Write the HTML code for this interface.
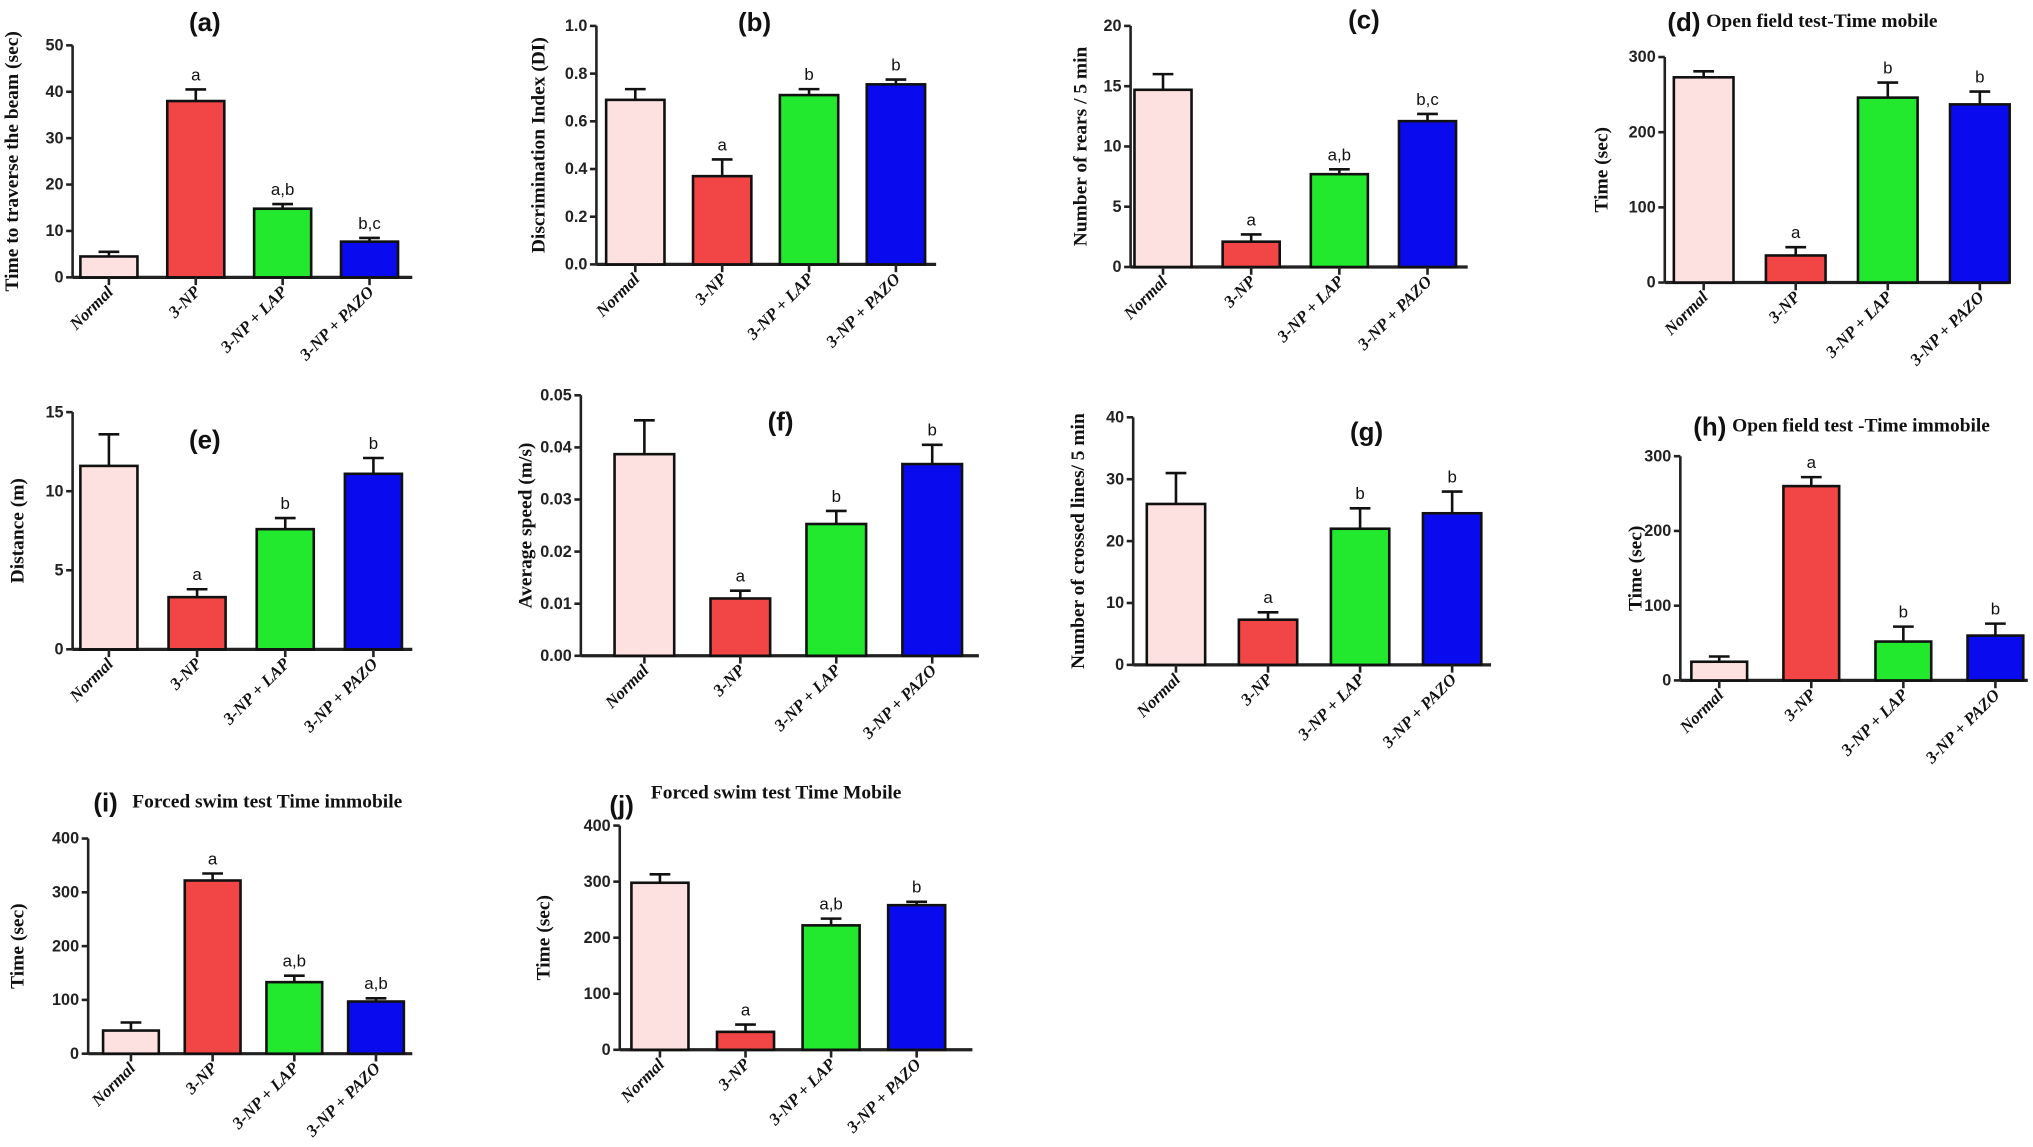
<!DOCTYPE html>
<html><head><meta charset="utf-8">
<style>
html,body{margin:0;padding:0;background:#fff;}
svg{display:block;}
.tick{font-family:"Liberation Sans",sans-serif;font-weight:bold;font-size:12.5px;fill:#222;}
.ylab{font-family:"Liberation Serif",serif;font-weight:bold;font-size:15px;fill:#111;}
.xl{font-family:"Liberation Serif",serif;font-weight:bold;font-style:italic;font-size:13px;fill:#111;}
.sig{font-family:"Liberation Sans",sans-serif;font-size:13px;fill:#111;}
.pl{font-family:"Liberation Sans",sans-serif;font-weight:bold;font-size:20px;fill:#111;}
.pt{font-family:"Liberation Serif",serif;font-weight:bold;font-size:15px;fill:#111;}
</style></head>
<body>
<svg id="fig" width="2033" height="1147" viewBox="0 0 1568 885" preserveAspectRatio="none" xmlns="http://www.w3.org/2000/svg"></svg>
<script>
const groups = ["Normal","3-NP","3-NP + LAP","3-NP + PAZO"];
const colors = ["#fde0e0","#f24545","#22e82e","#0a0aee"];

const aMeans=[4.5,38,14.8,7.7], aErr=[1.0,2.5,1.0,0.8], aSig=["","a","a,b","b,c"], aTicks=[0,10,20,30,40,50];
const bMeans=[0.69,0.37,0.71,0.755], bErr=[0.045,0.07,0.025,0.02], bSig=["","a","b","b"], bTicks=[0,0.2,0.4,0.6,0.8,1.0];
const cMeans=[14.7,2.1,7.7,12.1], cErr=[1.3,0.6,0.4,0.6], cSig=["","a","a,b","b,c"], cTicks=[0,5,10,15,20];
const dMeans=[273,36,246,237], dErr=[8,11,20,17], dSig=["","a","b","b"], dTicks=[0,100,200,300];
const eMeans=[11.6,3.3,7.6,11.1], eErr=[2.0,0.5,0.7,1.0], eSig=["","a","b","b"], eTicks=[0,5,10,15];
const fMeans=[0.0387,0.011,0.0253,0.0368], fErr=[0.0065,0.0015,0.0025,0.0037], fSig=["","a","b","b"], fTicks=[0,0.01,0.02,0.03,0.04,0.05];
const gMeans=[26,7.3,22,24.5], gErr=[5,1.2,3.3,3.5], gSig=["","a","b","b"], gTicks=[0,10,20,30,40];
const hMeans=[25,260,52,60], hErr=[7,12,20,16], hSig=["","a","b","b"], hTicks=[0,100,200,300];
const iMeans=[43,322,133,97], iErr=[15,13,12,6], iSig=["","a","a,b","a,b"], iTicks=[0,100,200,300,400];
const jMeans=[298,32,222,258], jErr=[15,13,12,6], jSig=["","a","a,b","b"], jTicks=[0,100,200,300,400];

const panels=[
 {id:"a",m:aMeans,e:aErr,s:aSig,t:aTicks,dec:0,ax:56,y0:214,y1:35,x0:84,dx:67,bw:44,xe:318,ylab:"Time to traverse the beam (sec)",ylx:14,lab:"(a)",lx:158,ly:24,title:""},
 {id:"b",m:bMeans,e:bErr,s:bSig,t:bTicks,dec:1,ax:460,y0:204,y1:20,x0:490,dx:67,bw:45,xe:722,ylab:"Discrimination Index (DI)",ylx:420,lab:"(b)",lx:582,ly:24,title:""},
 {id:"c",m:cMeans,e:cErr,s:cSig,t:cTicks,dec:0,ax:872,y0:206,y1:20,x0:897,dx:68,bw:44,xe:1132,ylab:"Number of rears / 5 min",ylx:838,lab:"(c)",lx:1052,ly:22,title:""},
 {id:"d",m:dMeans,e:dErr,s:dSig,t:dTicks,dec:0,ax:1284,y0:218,y1:44,x0:1314,dx:71,bw:46,xe:1550,ylab:"Time (sec)",ylx:1240,lab:"(d)",lx:1286,ly:24,title:"Open field test-Time mobile"},
 {id:"e",m:eMeans,e:eErr,s:eSig,t:eTicks,dec:0,ax:56,y0:501,y1:318,x0:84,dx:68,bw:44,xe:318,ylab:"Distance (m)",ylx:18,lab:"(e)",lx:158,ly:346,title:""},
 {id:"f",m:fMeans,e:fErr,s:fSig,t:fTicks,dec:2,ax:448,y0:506,y1:305,x0:497,dx:74,bw:46,xe:755,ylab:"Average speed (m/s)",ylx:410,lab:"(f)",lx:602,ly:332,title:""},
 {id:"g",m:gMeans,e:gErr,s:gSig,t:gTicks,dec:0,ax:874,y0:513,y1:322,x0:907,dx:71,bw:45,xe:1150,ylab:"Number of crossed lines/ 5 min",ylx:836,lab:"(g)",lx:1054,ly:340,title:""},
 {id:"h",m:hMeans,e:hErr,s:hSig,t:hTicks,dec:0,ax:1296,y0:525,y1:352,x0:1326,dx:71,bw:43,xe:1564,ylab:"Time (sec)",ylx:1266,lab:"(h)",lx:1306,ly:336,title:"Open field test -Time immobile"},
 {id:"i",m:iMeans,e:iErr,s:iSig,t:iTicks,dec:0,ax:68,y0:813,y1:647,x0:101,dx:63,bw:43,xe:318,ylab:"Time (sec)",ylx:18,lab:"(i)",lx:72,ly:626,title:"Forced swim test Time immobile"},
 {id:"j",m:jMeans,e:jErr,s:jSig,t:jTicks,dec:0,ax:478,y0:810,y1:637,x0:509,dx:66,bw:44,xe:750,ylab:"Time (sec)",ylx:424,lab:"(j)",lx:470,ly:628,title:"Forced swim test Time Mobile"}
];
const NS="http://www.w3.org/2000/svg";
const svg=document.getElementById("fig");
function mk(tag,attrs,parent,text){const el=document.createElementNS(NS,tag);for(const k in attrs)el.setAttribute(k,attrs[k]);if(text!==undefined)el.textContent=text;parent.appendChild(el);return el;}

panels.forEach(p=>{
  const g=mk("g",{},svg);
  
  
  const tmax=p.t[p.t.length-1];
  const yS=v=>p.y0-(v/tmax)*(p.y0-p.y1);
  const xS=i=>p.x0+i*p.dx;
  const ya=mk("line",{x1:p.ax,y1:p.y0,x2:p.ax,y2:p.y1,stroke:"#222","stroke-width":2},g);
  
  
  p.t.forEach(v=>{
    const y=yS(v);
    mk("line",{x1:p.ax-5,y1:y,x2:p.ax,y2:y,stroke:"#222","stroke-width":2},g);
    const tl=mk("text",{x:p.ax-7,y:y+4,"text-anchor":"end",class:"tick"},g,v.toFixed(p.dec));
    
    
  });
  const xa=mk("line",{x1:p.ax,y1:p.y0,x2:p.xe,y2:p.y0,stroke:"#222","stroke-width":2.5},g);
  
  
  p.m.forEach((v,i)=>{
    const cx=xS(i), top=yS(v), et=yS(v+p.e[i]);
    mk("line",{x1:cx,y1:top,x2:cx,y2:et,stroke:"#111","stroke-width":2},g);
    mk("line",{x1:cx-8,y1:et,x2:cx+8,y2:et,stroke:"#111","stroke-width":2},g);
    const r=mk("rect",{x:cx-p.bw/2,y:top,width:p.bw,height:p.y0-top,fill:colors[i],stroke:"#111","stroke-width":2},g);
    
    
    mk("line",{x1:cx,y1:p.y0,x2:cx,y2:p.y0+6,stroke:"#222","stroke-width":2},g);
    if(p.s[i]){
      const st=mk("text",{x:cx,y:et-7,"text-anchor":"middle",class:"sig"},g,p.s[i]);
      
      
    }
    const xl=mk("text",{x:0,y:0,"text-anchor":"end",class:"xl",transform:`translate(${cx+4},${p.y0+12}) rotate(-45)`},g,groups[i]);
    
    
  });
  const yl=mk("text",{x:0,y:0,"text-anchor":"middle",class:"ylab",transform:`translate(${p.ylx},${(p.y0+p.y1)/2}) rotate(-90)`},g,p.ylab);
  
  
  const pl=mk("text",{x:p.lx,y:p.ly,"text-anchor":p.title?"start":"middle",class:"pl"},g,p.lab);
  
  
  if(p.title){
    const tt=mk("text",{x:p.lx+(p.id==="j"?32:30),y:p.ly-(p.id==="j"?12:3),class:"pt"},g,p.title);
    
    
  }
});
</script>
</body></html>
